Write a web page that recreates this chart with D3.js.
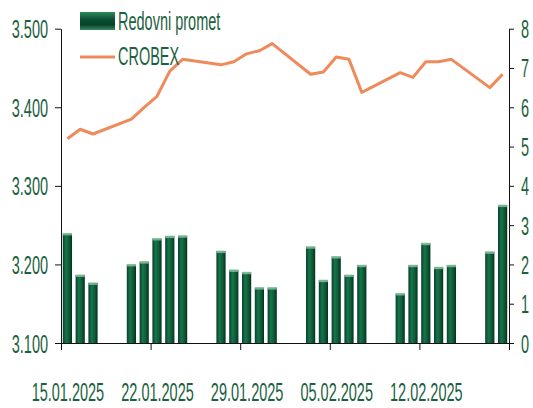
<!DOCTYPE html>
<html>
<head>
<meta charset="utf-8">
<script src="https://cdn.jsdelivr.net/npm/d3@7"></script>
<style>
  body { margin: 0; background: #fff; }
  svg text { font-family: "Liberation Sans", Arial, sans-serif; fill: #1b6140; }
</style>
</head>
<body>
<svg id="chart" width="533" height="408"></svg>
<script>
// trading days and values
const dates = ['15.01.2025','16.01.2025','17.01.2025','20.01.2025','21.01.2025','22.01.2025','23.01.2025','24.01.2025',
  '27.01.2025','28.01.2025','29.01.2025','30.01.2025','31.01.2025','03.02.2025','04.02.2025','05.02.2025','06.02.2025','07.02.2025',
  '10.02.2025','11.02.2025','12.02.2025','13.02.2025','14.02.2025','17.02.2025','18.02.2025'];
const promet = [2.79,1.73,1.53,2.00,2.07,2.66,2.72,2.73,2.34,1.86,1.80,1.41,1.41,2.45,1.60,2.20,1.73,1.98,1.26,1.98,2.54,1.93,1.98,2.32,3.51];
const crobex = [3360,3372,3366,3385,3400,3414,3446,3461,3454,3458,3468,3472,3481,3442,3445,3464,3461,3419,3444,3438,3458,3458,3461,3425,3442];
const leftTicks = [3100,3200,3300,3400,3500];
const rightTicks = [0,1,2,3,4,5,6,7,8];

const parse = d3.timeParse('%d.%m.%Y');
const fmt = d3.timeFormat('%d.%m.%Y');
const days = dates.map(parse);

const svg = d3.select('#chart');
const sx = 0.58; // squeeze for narrow looking labels
const fs = '25px';

const x = d3.scaleTime()
  .domain([parse('15.01.2025'), parse('19.02.2025')])
  .range([61, 509]);
const dayW = x(parse('16.01.2025')) - x(parse('15.01.2025'));
const yL = d3.scaleLinear().domain([3100, 3500]).range([343, 28.7]);
const yR = d3.scaleLinear().domain([0, 8]).range([343, 28.7]);

// gradients for the bars
const defs = svg.append('defs');
const g1 = defs.append('linearGradient').attr('id', 'barGrad').attr('x1', 0).attr('x2', 1).attr('y1', 0).attr('y2', 0);
[['0%','#08402a'],['35%','#17744a'],['65%','#0f5f3a'],['100%','#04321f']].forEach(s => g1.append('stop').attr('offset', s[0]).attr('stop-color', s[1]));
const g2 = defs.append('linearGradient').attr('id', 'legGrad').attr('x1', 0).attr('x2', 0).attr('y1', 0).attr('y2', 1);
[['0%','#2f8a5c'],['40%','#0b5232'],['70%','#06402a'],['100%','#3a8a60']].forEach(s => g2.append('stop').attr('offset', s[0]).attr('stop-color', s[1]));

// bars
const bars = svg.append('g');
bars.selectAll('rect.bar')
  .data(days)
  .enter()
  .append('rect')
  .attr('class', 'bar')
  .attr('x', d => x(d) + dayW * 0.14)
  .attr('width', dayW * 0.72)
  .attr('y', (d, i) => yR(promet[i]))
  .attr('height', (d, i) => 343 - yR(promet[i]))
  .attr('fill', 'url(#barGrad)');
bars.selectAll('rect.cap')
  .data(days)
  .enter()
  .append('rect')
  .attr('class', 'cap')
  .attr('x', d => x(d) + dayW * 0.14)
  .attr('width', dayW * 0.72)
  .attr('y', (d, i) => yR(promet[i]) - 0.5)
  .attr('height', 2.5)
  .attr('fill', '#8fc4a2')
  .attr('opacity', 0.8);

// crobex line
const line = d3.line()
  .x((d, i) => x(days[i]) + dayW / 2)
  .y(d => yL(d));
svg.append('path')
  .datum(crobex)
  .attr('d', line)
  .attr('fill', 'none')
  .attr('stroke', '#ef8a5b')
  .attr('stroke-width', 3)
  .attr('stroke-linejoin', 'round');

// axes
const axL = svg.append('g').attr('transform', 'translate(61,0)')
  .call(d3.axisLeft(yL).tickValues(leftTicks).tickSize(6).tickSizeOuter(0).tickFormat(v => (v / 1000).toFixed(3)));
axL.selectAll('text')
  .attr('x', -13 / sx).attr('dy', '0.36em')
  .attr('transform', `scale(${sx},1)`);

const axR = svg.append('g').attr('transform', 'translate(509,0)')
  .call(d3.axisRight(yR).tickValues(rightTicks).tickSize(5).tickSizeOuter(0));
axR.selectAll('text')
  .attr('x', 12 / sx).attr('dy', '0.36em')
  .attr('transform', `scale(${sx},1)`);

const weekTicks = d3.timeDay.range(parse('15.01.2025'), parse('20.02.2025'), 7);
const axB = svg.append('g').attr('transform', 'translate(0,343)')
  .call(d3.axisBottom(x).tickValues(weekTicks).tickSize(7).tickSizeOuter(0)
    .tickFormat((d, i) => i < weekTicks.length - 1 ? fmt(d) : ''));
axB.selectAll('text')
  .attr('x', (dayW / 2) / sx).attr('y', 58).attr('dy', 0)
  .attr('transform', `scale(${sx},1)`);

svg.selectAll('.domain, .tick line').attr('stroke', '#111').attr('stroke-width', 1);
svg.selectAll('.tick text').style('font-size', fs).style('font-family', '"Liberation Sans", Arial, sans-serif').attr('fill', '#1b6140');

// legend
const leg = svg.append('g');
leg.append('rect').attr('x', 80).attr('y', 12).attr('width', 35).attr('height', 18).attr('fill', 'url(#legGrad)');
leg.append('text').attr('transform', `translate(118,30) scale(${sx},1)`).style('font-size', fs).text('Redovni promet');
leg.append('line').attr('x1', 80).attr('x2', 115).attr('y1', 57).attr('y2', 57).attr('stroke', '#ef8a5b').attr('stroke-width', 3);
leg.append('text').attr('transform', `translate(118,65) scale(${sx},1)`).style('font-size', fs).text('CROBEX');
</script>
</body>
</html>
